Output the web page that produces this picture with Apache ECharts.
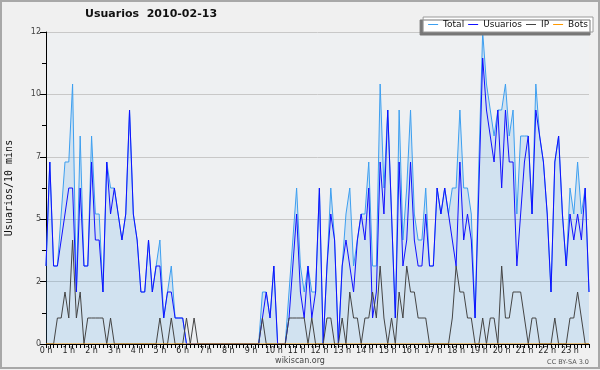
<!DOCTYPE html>
<html>
<head>
<meta charset="utf-8">
<script src="https://cdn.jsdelivr.net/npm/echarts@6/dist/echarts.min.js"></script>
<style>
html,body{margin:0;padding:0;background:#f0f0f0;}
#c{width:600px;height:370px;}
</style>
</head>
<body>
<div id="c"></div>
<script>
const hourLabels = ['0 h','1 h','2 h','3 h','4 h','5 h','6 h','7 h','8 h','9 h','10 h','11 h',
  '12 h','13 h','14 h','15 h','16 h','17 h','18 h','19 h','20 h','21 h','22 h','23 h'];
const yTicks = [0, 2.4, 4.8, 7.2, 9.6, 12];

const total = [
  3,7,3,3,5,7,7,10,2,8,3,3,
  8,5,5,2,7,6,6,5,4,5,9,5,
  4,2,2,4,2,3,4,1,2,3,1,1,
  1,0,0,0,0,0,0,0,0,0,0,0,
  0,0,0,0,0,0,0,0,0,2,2,1,
  3,0,0,0,2,4,6,3,2,3,2,2,
  6,0,3,6,4,0,3,5,6,3,4,5,
  5,7,3,3,10,6,9,5,1,9,4,6,
  9,5,4,4,6,3,3,6,5,6,5,6,
  6,9,6,6,5,1,7,12,10,9,8,9,
  9,10,8,9,5,8,8,8,5,10,8,7,
  5,2,7,8,5,3,6,5,7,5,6,2
];
const usuarios = [
  3,7,3,3,4,5,6,6,2,6,3,3,
  7,4,4,2,7,5,6,5,4,5,9,5,
  4,2,2,4,2,3,3,1,2,2,1,1,
  1,0,0,0,0,0,0,0,0,0,0,0,
  0,0,0,0,0,0,0,0,0,1,2,1,
  3,0,0,0,1,3,5,2,1,3,1,2,
  6,0,3,5,4,0,3,4,3,2,4,5,
  4,6,1,2,7,5,9,5,1,7,3,4,
  7,4,3,3,5,3,3,6,5,6,5,4,
  3,7,4,5,4,1,6,11,9,8,7,9,
  6,9,7,7,3,5,7,8,5,9,8,7,
  5,2,7,8,5,3,5,4,5,4,6,2
];
const ip = [
  0,0,0,1,1,2,1,4,1,2,0,1,
  1,1,1,1,0,1,0,0,0,0,0,0,
  0,0,0,0,0,0,1,0,0,1,0,0,
  0,1,0,1,0,0,0,0,0,0,0,0,
  0,0,0,0,0,0,0,0,0,1,0,0,
  0,0,0,0,1,1,1,1,1,0,1,0,
  0,0,1,1,0,0,1,0,2,1,1,0,
  1,1,2,1,3,1,0,1,0,2,1,3,
  2,2,1,1,1,0,0,0,0,0,0,1,
  3,2,2,1,1,0,0,1,0,1,1,0,
  3,1,1,2,2,2,1,0,1,1,0,0,
  0,0,1,0,0,0,1,1,2,1,0,0
];
const bots = [
  0,0,0,0,0,0,0,0,0,0,0,0,
  0,0,0,0,0,0,0,0,0,0,0,0,
  0,0,0,0,0,0,0,0,0,0,0,0,
  0,0,0,0,0,0,0,0,0,0,0,0,
  0,0,0,0,0,0,0,0,0,0,0,0,
  0,0,0,0,0,0,0,0,0,0,0,0,
  0,0,0,0,0,0,0,0,0,0,0,0,
  0,0,0,0,0,0,0,0,0,0,0,0,
  0,0,0,0,0,0,0,0,0,0,0,0,
  0,0,0,0,0,0,0,0,0,0,0,0,
  0,0,0,0,0,0,0,0,0,0,0,0,
  0,0,0,0,0,0,0,0,0,0,0,0
];

const times = [];
for (let i = 0; i < total.length; i++) {
  times.push(Math.floor(i / 6) + ':' + (i % 6) + '0');
}

const chart = echarts.init(document.getElementById('c'), null, {renderer: 'canvas'});
chart.setOption({
  animation: false,
  backgroundColor: '#f0f0f0',
  title: {
    text: 'Usuarios  2010-02-13',
    left: 85, top: 9, padding: 0,
    textStyle: {fontFamily: 'DejaVu Sans', fontWeight: 'bold', fontSize: 11, color: '#111'}
  },
  legend: {
    right: 7, top: 17,
    padding: [3, 5, 3, 5],
    itemGap: 4, itemWidth: 10, itemHeight: 1,
    icon: 'rect',
    backgroundColor: '#ffffff',
    borderColor: '#9a9a9a', borderWidth: 1, borderRadius: 0,
    shadowColor: '#777777', shadowOffsetX: -3, shadowOffsetY: 3, shadowBlur: 0,
    textStyle: {fontFamily: 'DejaVu Sans', fontSize: 9, color: '#111'},
    data: ['Total', 'Usuarios', 'IP', 'Bots']
  },
  grid: {left: 46, right: 11, top: 32, bottom: 26, show: true, backgroundColor: '#eef0f2', borderWidth: 0,
    containLabel: false, outerBoundsMode: 'none'},
  xAxis: {
    type: 'category', data: times, boundaryGap: false, z: 10,
    axisLine: {lineStyle: {color: '#000', width: 1}},
    axisTick: {interval: 0, length: 4, lineStyle: {color: '#000'}},
    axisLabel: {interval: 5, margin: 3, fontFamily: 'DejaVu Sans', fontSize: 8, color: '#222',
      formatter: (v, i) => hourLabels[Math.floor(i / 6)]},
    splitLine: {show: false}
  },
  yAxis: {
    type: 'value', min: yTicks[0], max: yTicks[yTicks.length - 1], interval: yTicks[1] - yTicks[0],
    name: 'Usuarios/10 mins', nameLocation: 'middle', nameGap: 32, nameRotate: 90,
    nameTextStyle: {fontFamily: 'DejaVu Sans Mono', fontSize: 10, color: '#111'},
    axisLine: {show: true, lineStyle: {color: '#000', width: 1}},
    axisTick: {show: true, length: 6, lineStyle: {color: '#000'}},
    minorTick: {show: true, splitNumber: 2, length: 4, lineStyle: {color: '#000'}},
    axisLabel: {margin: 5, fontFamily: 'DejaVu Sans', fontSize: 8, color: '#444',
      formatter: v => String(Math.round(v))},
    splitLine: {lineStyle: {color: '#c8c8c8', width: 1}}
  },
  series: [
    {name: 'Total', type: 'line', data: total, showSymbol: false, color: '#3d9ff0',
     lineStyle: {width: 1, color: '#3d9ff0'}, areaStyle: {color: 'rgba(75,164,234,0.25)'}},
    {name: 'Usuarios', type: 'line', data: usuarios, showSymbol: false, color: '#1010ff',
     lineStyle: {width: 1, color: '#1010ff'}},
    {name: 'IP', type: 'line', data: ip, showSymbol: false, color: '#444444',
     lineStyle: {width: 1, color: '#444444'}},
    {name: 'Bots', type: 'line', data: bots, showSymbol: false, color: '#ff9900',
     lineStyle: {width: 1, color: '#ff9900'}}
  ],
  graphic: [
    {type: 'rect', shape: {x: 1, y: 1, width: 598, height: 367}, z: 100, silent: true,
     style: {fill: 'none', stroke: '#a8a8a8', lineWidth: 2}},
    {type: 'text', x: 300, y: 361, z: 100, silent: true,
     style: {text: 'wikiscan.org', fontFamily: 'DejaVu Sans', fontSize: 8, fill: '#444', align: 'center', verticalAlign: 'middle'}},
    {type: 'text', x: 589, y: 362, z: 100, silent: true,
     style: {text: 'CC BY-SA 3.0', fontFamily: 'DejaVu Sans', fontSize: 6.5, fill: '#555', align: 'right', verticalAlign: 'middle'}}
  ]
});
</script>
</body>
</html>
